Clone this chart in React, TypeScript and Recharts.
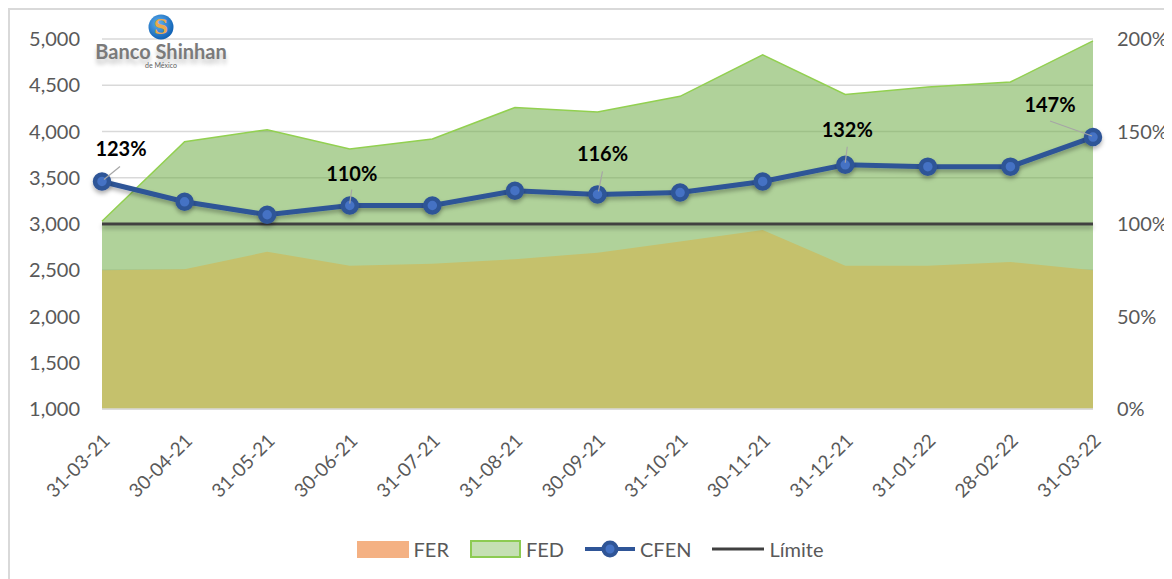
import {
  ComposedChart,
  Area,
  Line,
  XAxis,
  YAxis,
  CartesianGrid,
  Legend,
  LabelList,
} from 'recharts';

// fechas de corte (eje de categorias)
const dates = [
  '31-03-21', '30-04-21', '31-05-21', '30-06-21', '31-07-21', '31-08-21', '30-09-21',
  '31-10-21', '30-11-21', '31-12-21', '31-01-22', '28-02-22', '31-03-22',
];

// montos (eje izquierdo)
const fer = [2500, 2510, 2700, 2550, 2570, 2620, 2690, 2810, 2935, 2550, 2550, 2590, 2500];
const fed = [3030, 3890, 4020, 3810, 3920, 4260, 4210, 4380, 4830, 4400, 4480, 4535, 4980];

// coeficiente en % (eje derecho)
const cfen = [123, 112, 105, 110, 110, 118, 116, 117, 123, 132, 131, 131, 147];
const limite = [100, 100, 100, 100, 100, 100, 100, 100, 100, 100, 100, 100, 100];

const leftTicks = [1000, 1500, 2000, 2500, 3000, 3500, 4000, 4500, 5000];
const rightTicks = [0, 50, 100, 150, 200];

const chartData = dates.map((d, i) => ({
  date: d,
  FER: fer[i],
  FED: fed[i],
  CFEN: cfen[i],
  Limite: limite[i],
}));

const FONT = 'Lato, "Liberation Sans", sans-serif';
const GRAY = '#595959';

// where each percentage label sits relative to its point
const labelPos: Record<number, { dx: number; dy: number; l: number[] }> = {
  0: { dx: 19, dy: -33, l: [2, -2, 18, -15] },
  3: { dx: 2, dy: -33, l: [0, -2, 2, -16] },
  6: { dx: 5, dy: -41, l: [1, -3, 5, -23] },
  9: { dx: 2, dy: -36, l: [0, -2, 2, -18] },
  12: { dx: -43, dy: -33, l: [-1, -1, -43, -16] },
};

const PctLabel = (props: any) => {
  const { x, y, value, index } = props;
  const pos = labelPos[index];
  if (!pos) return null;
  return (
    <g>
      <line
        x1={x + pos.l[0]}
        y1={y + pos.l[1]}
        x2={x + pos.l[2]}
        y2={y + pos.l[3]}
        stroke="#a6a6a6"
        strokeWidth={1.2}
      />
      <text
        x={x + pos.dx}
        y={y + pos.dy}
        textAnchor="middle"
        dominantBaseline="central"
        fontFamily={FONT}
        fontWeight={700}
        fontSize={20}
        fill="#000"
      >
        {value}%
      </text>
    </g>
  );
};

const DateTick = (props: any) => {
  const { x, y, payload } = props;
  const ax = x + 9;
  const ay = y + 25;
  return (
    <text
      x={ax}
      y={ay}
      transform={`rotate(-45, ${ax}, ${ay})`}
      textAnchor="end"
      fontFamily={FONT}
      fontSize={19}
      fill={GRAY}
    >
      {payload.value}
    </text>
  );
};

const LegendContent = () => {
  const item = { display: 'flex', alignItems: 'center', marginRight: 21 } as const;
  const label = { marginLeft: 5, fontSize: 20, color: GRAY, fontFamily: FONT } as const;
  return (
    <div style={{ display: 'flex', justifyContent: 'center', alignItems: 'center' }}>
      <div style={item}>
        <div style={{ width: 52, height: 17, background: '#F4B183' }} />
        <span style={label}>FER</span>
      </div>
      <div style={item}>
        <div style={{ width: 47, height: 14, background: '#C5E0B4', border: '2px solid #8CCB52' }} />
        <span style={label}>FED</span>
      </div>
      <div style={item}>
        <svg width={50} height={20}>
          <line x1={0} y1={10} x2={50} y2={10} stroke="#2F5597" strokeWidth={4} />
          <circle cx={25} cy={10} r={6.5} fill="#4472C4" stroke="#2F5597" strokeWidth={4} />
        </svg>
        <span style={label}>CFEN</span>
      </div>
      <div style={{ ...item, marginRight: 0 }}>
        <svg width={52} height={20}>
          <line x1={0} y1={10} x2={52} y2={10} stroke="#404040" strokeWidth={3} />
        </svg>
        <span style={label}>Límite</span>
      </div>
    </div>
  );
};

const Logo = () => (
  <div style={{ position: 'absolute', left: 76, top: 3, width: 150, textAlign: 'center', fontFamily: FONT }}>
    <svg width={28} height={28} style={{ display: 'block', margin: '0 auto' }}>
      <defs>
        <radialGradient id="logoBlue" cx="40%" cy="35%" r="70%">
          <stop offset="0%" stopColor="#5fb0f0" />
          <stop offset="100%" stopColor="#0a5cb0" />
        </radialGradient>
      </defs>
      <circle cx={14} cy={14} r={12.5} fill="url(#logoBlue)" />
      <text x={14} y={21} textAnchor="middle" fontSize={20} fontWeight={700} fill="#e9a94f" fontFamily="DejaVu Serif">
        S
      </text>
    </svg>
    <div
      style={{
        fontSize: 20,
        fontWeight: 700,
        color: '#7a7a7a',
        lineHeight: '20px',
        marginTop: 0,
        textShadow: '0 5px 4px rgba(0,0,0,0.22)',
      }}
    >
      Banco Shinhan
    </div>
    <div style={{ fontSize: 7, color: '#606060', lineHeight: '8px' }}>de México</div>
  </div>
);

export default function App() {
  return (
    <div
      style={{
        position: 'relative',
        width: 1164,
        height: 571,
        borderLeft: '2px solid #d9d9d9',
        borderTop: '2px solid #d9d9d9',
        background: '#fff',
      }}
    >
      <ComposedChart
        width={1160}
        height={565}
        data={chartData}
        margin={{ top: 29, right: 7, left: 12, bottom: 0 }}
      >
        <defs>
          <filter id="lineShadow" filterUnits="userSpaceOnUse" x={0} y={0} width={1160} height={565}>
            <feDropShadow dx={0} dy={3} stdDeviation={2} floodColor="#000" floodOpacity={0.3} />
          </filter>
        </defs>
        <CartesianGrid vertical={false} stroke="#d9d9d9" strokeWidth={1.5} yAxisId="left" />
        <XAxis
          dataKey="date"
          height={166}
          tick={<DateTick />}
          tickLine={false}
          axisLine={{ stroke: '#d9d9d9', strokeWidth: 1.5 }}
          interval={0}
        />
        <YAxis
          yAxisId="left"
          domain={[1000, 5000]}
          ticks={leftTicks}
          width={80}
          axisLine={false}
          tickLine={false}
          tickMargin={16}
          tick={{ fontSize: 20, fill: GRAY, fontFamily: FONT }}
          tickFormatter={(v: number) => v.toLocaleString('en-US')}
        />
        <YAxis
          yAxisId="right"
          orientation="right"
          domain={[0, 200]}
          ticks={rightTicks}
          width={70}
          axisLine={false}
          tickLine={false}
          tickMargin={18}
          tick={{ fontSize: 20, fill: GRAY, fontFamily: FONT, textAnchor: 'start' }}
          tickFormatter={(v: number) => `${v}%`}
        />
        <Area
          yAxisId="left"
          type="linear"
          dataKey="FED"
          stroke="#92D050"
          strokeWidth={1.5}
          fill="#70AD47"
          fillOpacity={0.55}
          isAnimationActive={false}
        />
        <Area
          yAxisId="left"
          type="linear"
          dataKey="FER"
          stroke="none"
          fill="#C5C16C"
          fillOpacity={1}
          isAnimationActive={false}
        />
        <Line
          yAxisId="right"
          type="linear"
          dataKey="Limite"
          stroke="#404040"
          strokeWidth={3}
          dot={false}
          filter="url(#lineShadow)"
          isAnimationActive={false}
        />
        <Line
          yAxisId="right"
          type="linear"
          dataKey="CFEN"
          stroke="#2F5597"
          strokeWidth={5}
          dot={{ r: 7, fill: '#4472C4', stroke: '#2F5597', strokeWidth: 4.5 }}
          filter="url(#lineShadow)"
          isAnimationActive={false}
        >
          <LabelList dataKey="CFEN" content={<PctLabel />} />
        </Line>
        <Legend
          verticalAlign="middle"
          align="center"
          content={<LegendContent />}
          wrapperStyle={{ top: 527, left: 0, width: 1160 }}
        />
      </ComposedChart>
      <Logo />
    </div>
  );
}
